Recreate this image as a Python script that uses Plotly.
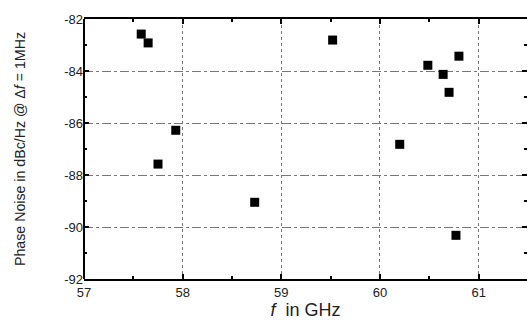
import plotly.graph_objects as go

freq_ghz = [57.58, 57.65, 57.93, 57.75, 58.73, 59.52, 60.20, 60.485, 60.64, 60.70, 60.80, 60.77]
phase_noise = [-82.58, -82.92, -86.28, -87.58, -89.05, -82.81, -86.82, -83.78, -84.13, -84.82, -83.43, -90.32]

x_ticks = [57, 58, 59, 60, 61]
y_ticks = [-82, -84, -86, -88, -90, -92]

fig = go.Figure()
fig.add_trace(go.Scatter(
    x=freq_ghz, y=phase_noise, mode="markers",
    marker=dict(symbol="square", size=9, color="black"),
    showlegend=False,
))

tick_font = dict(family="Liberation Sans, Arial, sans-serif", size=13, color="#222")
xtitle_font = dict(family="Liberation Sans, Arial, sans-serif", size=18, color="#222")
ytitle_font = dict(family="Liberation Sans, Arial, sans-serif", size=14.2, color="#222")

fig.update_layout(
    width=527, height=320,
    margin=dict(l=84, r=0, t=19, b=41),
    paper_bgcolor="white", plot_bgcolor="white",
    font=tick_font,
    xaxis=dict(
        range=[57, 61.49],
        tickvals=x_ticks, ticktext=[str(v) for v in x_ticks],
        showline=True, linecolor="black", linewidth=2, mirror="ticks",
        ticks="inside", ticklen=5, tickwidth=2, tickcolor="black",
        minor=dict(dtick=0.5, tick0=57, ticks="inside", ticklen=3, tickwidth=1.5, tickcolor="black", showgrid=False),
        showgrid=True, gridcolor="#777", gridwidth=1, griddash="dot",
        zeroline=False,
        title=dict(text="<i>f</i>  in GHz", standoff=5, font=xtitle_font),
        tickfont=tick_font,
    ),
    yaxis=dict(
        range=[-92, -82],
        tickvals=y_ticks, ticktext=[str(v) for v in y_ticks],
        showline=False, mirror="ticks",
        ticks="inside", ticklen=5, tickwidth=2, tickcolor="black",
        minor=dict(dtick=1, tick0=-92, ticks="inside", ticklen=3, tickwidth=1.5, tickcolor="black", showgrid=False),
        showgrid=True, gridcolor="#777", gridwidth=1, griddash="dashdot",
        zeroline=False,
        title=dict(text="Phase Noise in dBc/Hz @ \u0394<i>f</i> = 1MHz", standoff=35, font=ytitle_font),
        tickfont=tick_font,
    ),
    shapes=[dict(type="line", xref="paper", yref="paper", x0=0, x1=0, y0=0, y1=1,
                 line=dict(color="black", width=2))],
)

fig.write_html("out.html", config={"displayModeBar": False},
               post_script="document.body.style.margin='0';")
